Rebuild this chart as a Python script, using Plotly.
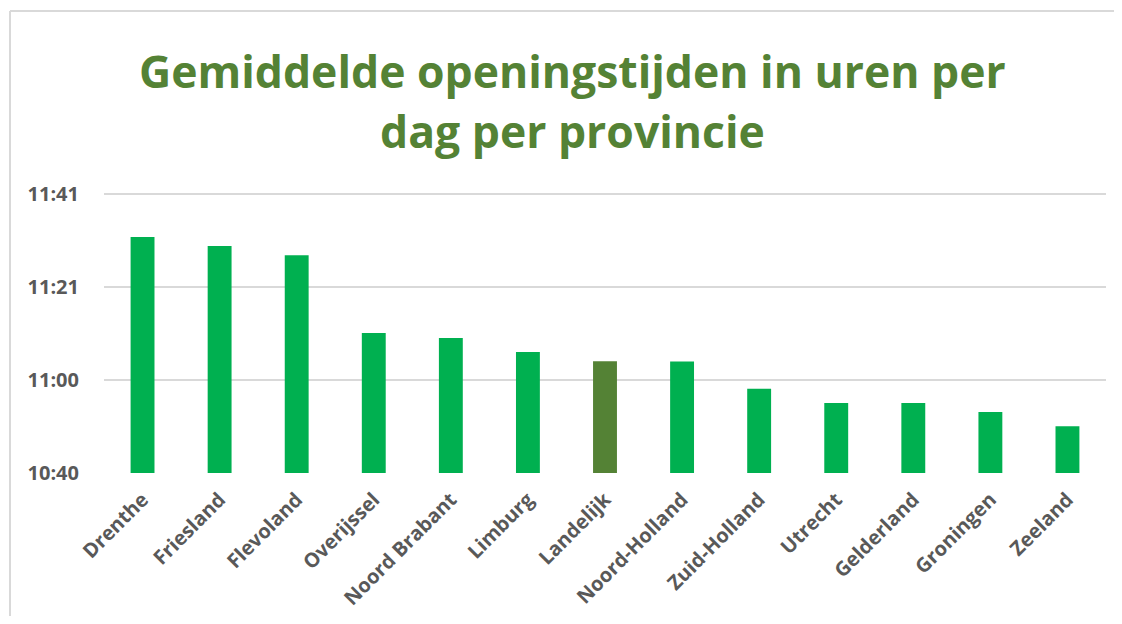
import plotly.graph_objects as go

# Data: average opening time per day, in minutes (11:32 -> 692 minutes)
provincies = ["Drenthe", "Friesland", "Flevoland", "Overijssel", "Noord Brabant",
              "Limburg", "Landelijk", "Noord-Holland", "Zuid-Holland", "Utrecht",
              "Gelderland", "Groningen", "Zeeland"]
minuten = [691.9, 689.9, 687.9, 670.8, 669.7, 666.6, 664.6, 664.5, 658.5,
           655.4, 655.4, 653.4, 650.3]
tick_vals = [640, 660.45, 680.9, 701.35]
tick_text = ["10:40", "11:00", "11:21", "11:41"]

GREEN = "#00B050"
DARK = "#548235"
colors = [DARK if p == "Landelijk" else GREEN for p in provincies]

fig = go.Figure(go.Bar(
    x=provincies, y=minuten, marker=dict(color=colors, line=dict(width=0)),
))

# page body has an 8px margin; figure coordinates are offset accordingly
OFF = 8
W, H = 1122 - OFF, 624 - 2 * OFF
L, T = 104 - OFF, 192 - OFF
R = W - (1106 - OFF)
B = H - (473 - OFF)
pw, ph = W - L - R, H - T - B
ymax = 701.35 + 2 / 4.548

def px(x):
    return (x - OFF - L) / pw

def py(y):
    return (H - B - (y - OFF)) / ph

fig.update_layout(
    width=W, height=H,
    margin=dict(l=L, r=R, t=T, b=B, autoexpand=False),
    paper_bgcolor="white", plot_bgcolor="white",
    bargap=0.69,
    showlegend=False,
    font=dict(family="Open Sans", color="#595959"),
    xaxis=dict(
        tickangle=-45, showgrid=False, showline=False, ticks="", automargin=False,
        ticklabelstandoff=10,
        tickfont=dict(size=20, color="#595959", family="Open Sans", weight="bold"),
    ),
    yaxis=dict(
        range=[640, ymax], tickvals=tick_vals, ticktext=tick_text, automargin=False,
        showgrid=True, gridcolor="#D9D9D9", gridwidth=2, zeroline=False,
        showline=False, ticks="", ticklabelstandoff=24,
        tickfont=dict(size=20, color="#595959", family="Open Sans", weight="bold"),
    ),
    annotations=[
        dict(text="Gemiddelde openingstijden in uren per", xref="paper", yref="paper",
             x=px(572), y=py(70), xanchor="center", yanchor="middle", showarrow=False,
             font=dict(size=44.5, color=DARK, family="Open Sans", weight="bold")),
        dict(text="dag per provincie", xref="paper", yref="paper",
             x=px(572), y=py(130), xanchor="center", yanchor="middle", showarrow=False,
             font=dict(size=44.5, color=DARK, family="Open Sans", weight="bold")),
    ],
    shapes=[
        dict(type="line", xref="paper", yref="paper", x0=px(10), x1=px(10), y0=py(11), y1=py(624),
             line=dict(color="#D9D9D9", width=2)),
        dict(type="line", xref="paper", yref="paper", x0=px(10), x1=px(1122), y0=py(11), y1=py(11),
             line=dict(color="#D9D9D9", width=2)),
    ],
)

fig.write_html("out.html")
